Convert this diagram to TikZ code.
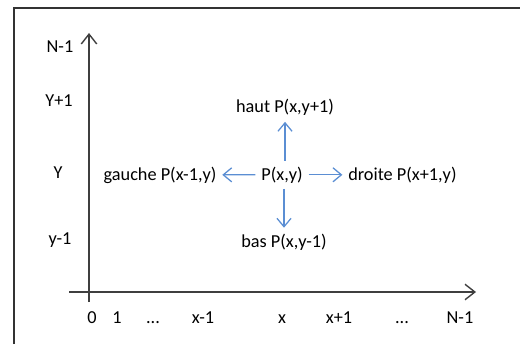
\documentclass[tikz,border=0pt]{standalone}
\usepackage{fontspec}
\setmainfont{Carlito}
\usetikzlibrary{arrows.meta}
\definecolor{movblue}{HTML}{5B8ED3}
\definecolor{axisgray}{HTML}{3F3F3F}

\begin{document}
\begin{tikzpicture}[
        axis/.style={line width=1pt, draw=axisgray, -{Straight Barb[length=7pt,width=11pt]}},
        move/.style={line width=0.9pt, draw=movblue, -{Straight Barb[length=6pt,width=10pt]}},
        lbl/.style={font=\fontsize{13}{15}\selectfont, inner sep=4pt},
        tick/.style={lbl, anchor=base}
    ]
    \useasboundingbox (0,0) rectangle (13,8.6);
    \draw[line width=1.4pt, black!80] (0.35,0) -- (0.35,8.4) -- (13,8.4);

    % axes
    \coordinate (ybot) at (2.225,1.05);
    \coordinate (ytop) at (2.225,7.775);
    \coordinate (xleft) at (1.725,1.3);
    \coordinate (xright) at (11.9,1.3);
    \draw[axis] (ybot) -- (ytop);
    \draw[axis] (xleft) -- (xright);

    % rows
    \node[tick] (rown) at (1.5,7.275) {N-1};
    \node[tick] (rowyp) at (1.475,5.925) {Y+1};
    \node[tick] (rowy) at (1.45,4.15) {Y};
    \node[tick] (rowym) at (1.5,2.5) {y-1};

    % columns
    \node[tick] (col0) at (2.3,0.525) {0};
    \node[tick] (col1) at (2.925,0.525) {1};
    \node[tick] (cold) at (3.825,0.525) {...};
    \node[tick] (colxm) at (5.075,0.525) {x-1};
    \node[tick] (colx) at (7.05,0.525) {x};
    \node[tick] (colxp) at (8.475,0.525) {x+1};
    \node[tick] (coldd) at (10.05,0.525) {...};
    \node[tick] (coln) at (11.5,0.525) {N-1};

    % neighbours
    \node[lbl, anchor=base] (p) at (7.05,4.1) {P(x,y)};
    \node[lbl, anchor=base] (gauche) at (4.0,4.1) {gauche P(x-1,y)};
    \node[lbl, anchor=base] (droite) at (10.06,4.1) {droite P(x+1,y)};
    \node[lbl, anchor=base] (haut) at (7.125,5.775) {haut P(x,y+1)};
    \node[lbl, anchor=base] (bas) at (7.1,2.425) {bas P(x,y-1)};

    \draw[move] (p) -- (gauche);
    \draw[move] (p) -- (droite);
    \draw[move] (p.north -| haut) -- (haut);
    \draw[move] (p.south -| bas) -- (bas);
\end{tikzpicture}
\end{document}
